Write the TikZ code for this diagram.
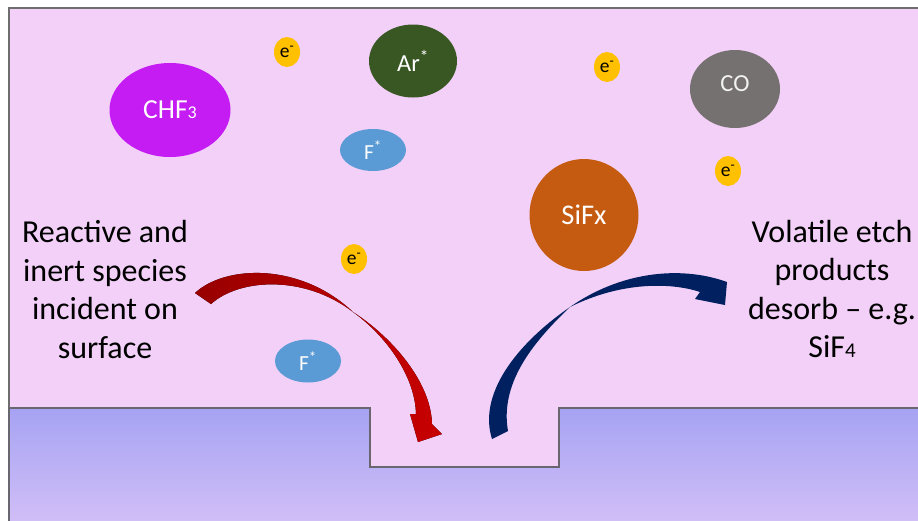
\documentclass[tikz,border=0pt]{standalone}
\usepackage{fontspec}
\setmainfont{Carlito}
\usetikzlibrary{shapes.geometric}
\definecolor{bgpink}{HTML}{F2D0F8}
\definecolor{framegray}{HTML}{6E6E6E}
\definecolor{edgegray}{HTML}{6A6670}
\definecolor{subtop}{HTML}{A6A3F3}
\definecolor{subbot}{HTML}{D4C0F7}
\definecolor{chfpurple}{HTML}{C41CF2}
\definecolor{argreen}{HTML}{385723}
\definecolor{fblue}{HTML}{5B9BD5}
\definecolor{cogray}{HTML}{767171}
\definecolor{siorange}{HTML}{C55A11}
\definecolor{eyellow}{HTML}{FFC000}
\definecolor{darkred}{HTML}{980000}
\definecolor{brightred}{HTML}{C80000}
\definecolor{navy}{HTML}{002060}
\newcommand\smalldigit[2]{{\fontsize{#1}{#1}\selectfont #2}}
\begin{document}
\begin{tikzpicture}[x=1pt,y=-1pt,
  particle/.style={ellipse, inner sep=0pt, text=white},
  elec/.style={ellipse, fill=eyellow, minimum width=26pt, minimum height=30pt, inner sep=0pt, font=\fontsize{19.5}{22}\selectfont},
  caption/.style={align=center, font=\fontsize{32}{38.5}\selectfont, inner sep=0pt}]
\useasboundingbox (0,0) rectangle (918,520);
\clip (0,0) rectangle (918,520);
\fill[white] (0,0) rectangle (918,520);
% frame and plasma region
\filldraw[fill=bgpink, draw=framegray, line width=1.5pt] (9,8) rectangle (930,530);
% substrate with trench
\draw[draw=edgegray, line width=1.6pt, top color=subtop, bottom color=subbot]
  (9,408) -- (370,408) -- (370,467) -- (559,467) -- (559,408) -- (930,408) -- (930,530) -- (9,530) -- cycle;
% species
\node[particle, fill=chfpurple, minimum width=121pt, minimum height=94pt, font=\fontsize{27.5}{32}\selectfont] (chf) at (170,110) {CHF\smalldigit{18}{3}};
\node[particle, fill=argreen, minimum width=88pt, minimum height=73pt, font=\fontsize{24.5}{28}\selectfont] (ar) at (413,61) {Ar\textsuperscript{*}};
\node[particle, fill=fblue, minimum width=66pt, minimum height=42pt, font=\fontsize{21.5}{24}\selectfont] (f1) at (373,150) {F\textsuperscript{*}};
\node[particle, fill=fblue, minimum width=66pt, minimum height=43pt, font=\fontsize{21.5}{24}\selectfont] (f2) at (308,361) {F\textsuperscript{*}};
\node[particle, fill=cogray, minimum width=90pt, minimum height=78pt, font=\fontsize{24.5}{28}\selectfont, text=white!95!black] (co) at (735,89) {\raisebox{10pt}{CO}};
\node[particle, fill=siorange, minimum width=109pt, minimum height=112pt, font=\fontsize{28.5}{32}\selectfont] (sifx) at (584,215) {SiFx};
\node[elec] (e1) at (287,52) {e\textsuperscript{-}};
\node[elec] (e2) at (607,67) {e\textsuperscript{-}};
\node[elec] (e3) at (728,171) {e\textsuperscript{-}};
\node[elec] (e4) at (354,259) {e\textsuperscript{-}};
% captions
\node[caption] (incident) at (105,289.5) {Reactive and\\inert species\\incident on\\surface};
\node[caption] (desorb) at (832,289) {Volatile etch\\products\\desorb – e.g.\\SiF\smalldigit{21}{4}};
% incoming curved arrow (red)
\fill[left color=darkred, right color=brightred]
  (195,293) .. controls (225,265) and (300,262) .. (353,312)
  .. controls (392,337) and (431,382) .. (432,424)
  -- (442,434) -- (418,442) -- (410,414) -- (416,414)
  .. controls (415,375) and (385,335) .. (353,312)
  .. controls (305,275) and (240,278) .. (211,304) -- cycle;
% outgoing curved arrow (navy)
\fill[navy]
  (492,439) .. controls (478,395) and (515,345) .. (570,307)
  .. controls (620,272) and (680,265) .. (727,282)
  -- (725,305) -- (695,299) -- (700,292)
  .. controls (670,282) and (620,282) .. (570,307)
  .. controls (530,345) and (500,385) .. (508,431) -- cycle;
\end{tikzpicture}
\end{document}
